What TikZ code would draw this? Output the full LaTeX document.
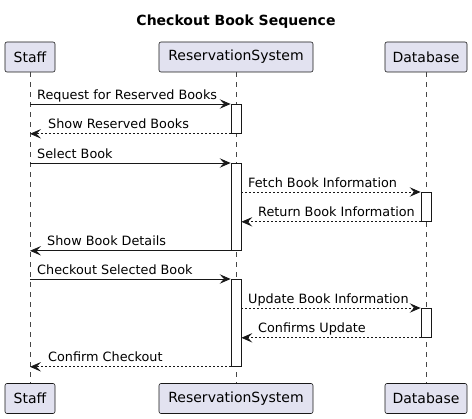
\documentclass[tikz,border=0pt]{standalone}
\usepackage{fontspec}
\setmainfont{DejaVu Sans}
\usepackage{tikz}
\usetikzlibrary{arrows.meta,positioning}
\definecolor{partfill}{HTML}{E2E2F0}
\definecolor{ink}{HTML}{181818}
\tikzstyle{part} = [rectangle, draw=ink, line width=0.6pt, fill=partfill, rounded corners=2pt,
text=black, font=\fontsize{14}{16}\selectfont, minimum height=30pt, inner sep=0pt]
\tikzstyle{act} = [rectangle, draw=ink, line width=0.8pt, fill=white, minimum width=10pt, inner sep=0pt]
\tikzstyle{life} = [draw=ink!80, line width=0.5pt, dash pattern=on 5pt off 5pt]
\tikzstyle{msg} = [draw=ink, line width=0.8pt, >={Stealth[length=11pt, width=9.5pt, inset=4.5pt]}, ->]
\tikzstyle{ret} = [msg, dash pattern=on 2pt off 2pt]
\tikzstyle{lbl} = [font=\fontsize{12.8}{15}\selectfont, anchor=base west, inner sep=0pt, text=black]

\begin{document}
\begin{tikzpicture}[x=1pt, y=-1pt]
\useasboundingbox (0,0) rectangle (472,419);

\node[font=\bfseries\fontsize{14}{16}\selectfont] (title) at (236,22) {Checkout Book Sequence};

% participants ===============================
\node[part, minimum width=50pt] (staff) at (30,57) {Staff};
\node[part, minimum width=154pt] (rsys) at (236,57) {ReservationSystem};
\node[part, minimum width=82pt] (db) at (426,57) {Database};

\node[part, minimum width=50pt] (staffb) at (30,398.5) {Staff};
\node[part, minimum width=154pt] (rsysb) at (236,398.5) {ReservationSystem};
\node[part, minimum width=82pt] (dbb) at (426,398.5) {Database};

% lifelines
\path[life] (staff) -- (staffb);
\path[life] (rsys) -- (rsysb);
\path[life] (db) -- (dbb);

% activations
\node[act, minimum height=29pt, anchor=north] (rs1) at (236,104) {};
\node[act, minimum height=87pt, anchor=north] (rs2) at (236,163) {};
\node[act, minimum height=29pt, anchor=north] (db1) at (426,192) {};
\node[act, minimum height=87pt, anchor=north] (rs3) at (236,279) {};
\node[act, minimum height=29pt, anchor=north] (db2) at (426,308) {};

% messages
\draw[msg] (staff |- rs1.north) -- (rs1.north west);
\node[lbl] at (37,99.5) {Request for Reserved Books};
\draw[ret] (rs1.south west) -- (staff |- rs1.south);
\node[lbl] at (48,128.5) {Show Reserved Books};

\draw[msg] (staff |- rs2.north) -- (rs2.north west);
\node[lbl] at (37,158.5) {Select Book};
\draw[ret] (rs2.east |- db1.north) -- (db1.north west);
\node[lbl] at (248,187.5) {Fetch Book Information};
\draw[ret] (db1.south west) -- (rs2.east |- db1.south);
\node[lbl] at (258,216.5) {Return Book Information};
\draw[msg] (rs2.south west) -- (staff |- rs2.south);
\node[lbl] at (47,245.5) {Show Book Details};

\draw[msg] (staff |- rs3.north) -- (rs3.north west);
\node[lbl] at (37,274.5) {Checkout Selected Book};
\draw[ret] (rs3.east |- db2.north) -- (db2.north west);
\node[lbl] at (248,303.5) {Update Book Information};
\draw[ret] (db2.south west) -- (rs3.east |- db2.south);
\node[lbl] at (258,332.5) {Confirms Update};
\draw[ret] (rs3.south west) -- (staff |- rs3.south);
\node[lbl] at (48,361.5) {Confirm Checkout};

\end{tikzpicture}
\end{document}
